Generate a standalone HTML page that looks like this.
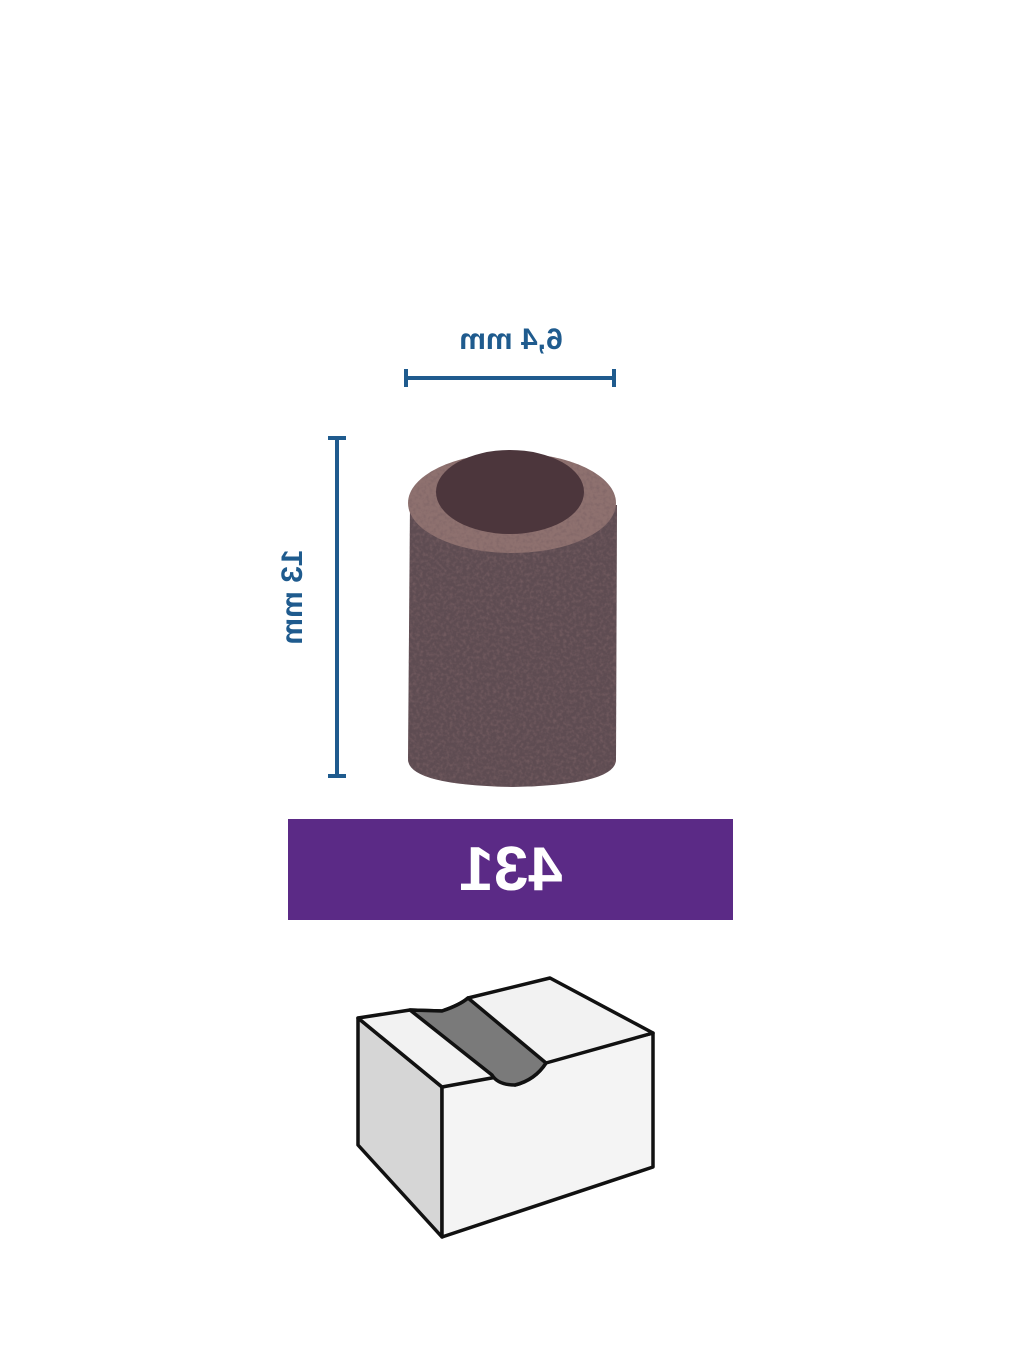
<!DOCTYPE html>
<html><head><meta charset="utf-8"><style>
html,body{margin:0;padding:0;background:#fff;width:1024px;height:1365px;overflow:hidden;position:relative;font-family:"Liberation Sans",sans-serif}
</style></head><body>
<svg width="1024" height="1365" style="position:absolute;left:0;top:0">
<defs>
<filter id="n" x="0" y="0" width="100%" height="100%">
<feTurbulence type="fractalNoise" baseFrequency="0.3" numOctaves="2" seed="3"/>
<feColorMatrix type="matrix" values="0 0 0 0 0.18  0 0 0 0 0.11  0 0 0 0 0.12  0 0 0 -1.8 1.05"/>
<feComposite in2="SourceGraphic" operator="in"/>
</filter>
</defs>
<g stroke="#1f5b8e" stroke-width="4" fill="none">
<line x1="405" y1="378" x2="615" y2="378"/><line x1="406" y1="369" x2="406" y2="387"/><line x1="614" y1="369" x2="614" y2="387"/>
<line x1="337" y1="438" x2="337" y2="776"/><line x1="328" y1="438" x2="346" y2="438"/><line x1="328" y1="776" x2="346" y2="776"/>
</g>
<path d="M410 505 L408 760 Q410 785 512 787 Q615 785 616 760 L617 505 Z" fill="#5e4c52"/>
<path d="M410 505 L408 760 Q410 785 512 787 Q615 785 616 760 L617 505 Z" fill="#5e4c52" filter="url(#n)"/>
<ellipse cx="512" cy="503" rx="104" ry="50" fill="#8e716f"/>
<ellipse cx="512" cy="503" rx="104" ry="50" fill="#8e716f" filter="url(#n)" opacity="0.6"/>
<ellipse cx="510" cy="492" rx="74" ry="42" fill="#4c363c"/>
<rect x="288" y="819" width="445" height="101" fill="#5b2a86"/>
<g font-family="Liberation Sans, sans-serif" font-weight="bold">
<text transform="matrix(-1 0 0 1 1023 0)" x="512" y="349" text-anchor="middle" font-size="30" fill="#1f5b8e">6,4 mm</text>
<text transform="matrix(0 1 1 0 0 0)" x="597" y="302" text-anchor="middle" font-size="30" fill="#1f5b8e">13 mm</text>
<text transform="matrix(-1 0 0 1 1021 0)" x="510" y="890" text-anchor="middle" font-size="62" fill="#fff">431</text>
</g>
<g stroke="#111" stroke-width="3.5" stroke-linejoin="round">
<polygon points="358,1018 442,1087 442,1237 358,1145" fill="#d6d6d6"/>
<polygon points="442,1087 653,1033 653,1167 442,1237" fill="#f4f4f4"/>
<path d="M358,1018 L410,1010 L442,1011 Q460,1005 468,998 L550,978 L653,1033 L546,1063 Q535,1080 515,1085 L497,1077 L442,1087 Z" fill="#f2f2f2"/>
<path d="M410,1010 L442,1011 Q460,1005 468,998 L546,1063 Q535,1080 515,1085 Q498,1085 492,1075 Z" fill="#7a7a7a"/>
</g>
</svg>
</body></html>
